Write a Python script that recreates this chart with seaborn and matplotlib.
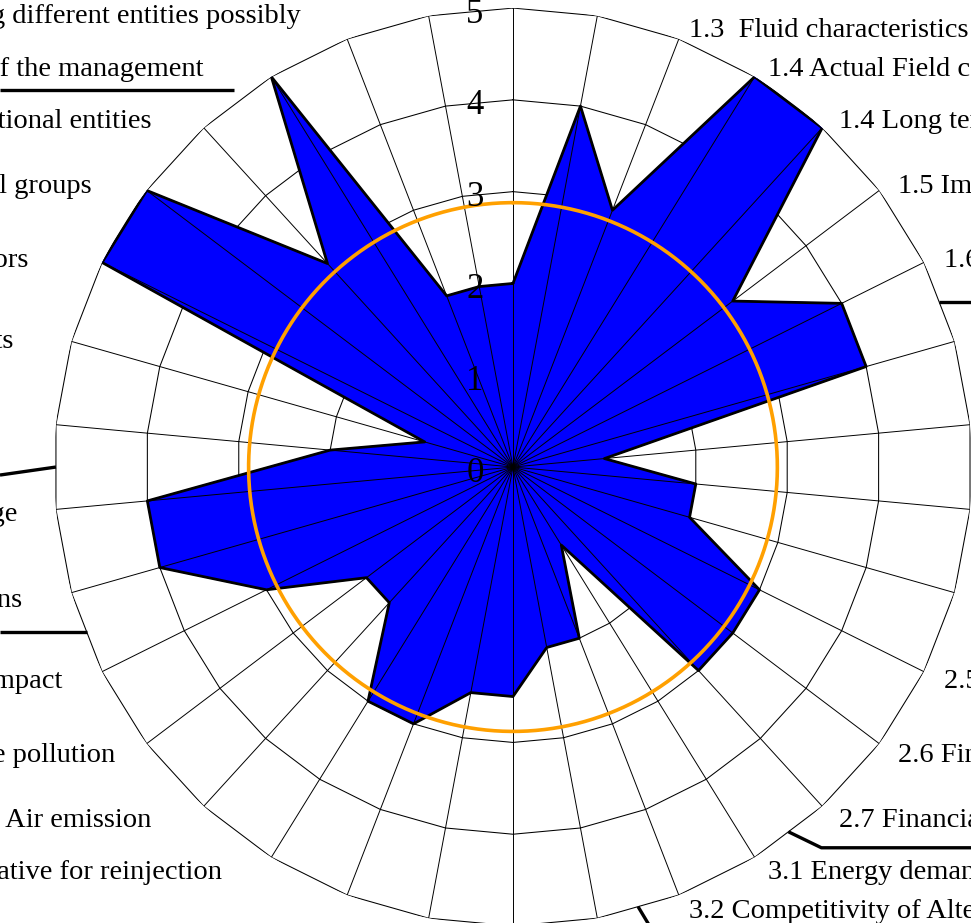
import numpy as np
import pandas as pd
import matplotlib
matplotlib.use("Agg")
import matplotlib.pyplot as plt
from matplotlib.lines import Line2D
from matplotlib.transforms import IdentityTransform
import seaborn as sns

# criteria, clockwise from the top
criteria = [
    "1.1 Geological characteristics",
    "1.2 Reservoir characteristics",
    "1.3  Fluid characteristics",
    "1.4 Actual Field conditions",
    "1.4 Long term sustainability",
    "1.5 Impact of exploitation",
    "1.6 Monitoring of the resource",
    "2.1 Plant technology",
    "2.2 Plant efficiency",
    "2.3 Plant availability",
    "2.4 Investment costs",
    "2.5 Operating costs",
    "2.6 Financial incentives",
    "2.7 Financial risk",
    "3.1 Energy demand",
    "3.2 Competitivity of Alternative sources",
    "4.1 Land use",
    "4.2 Noise",
    "4.3 Soil and subsoil",
    "4.4 Soil\nsubsidence\nand induced seismicity in the surrounding area",
    "4.5 Use of the geothermal fluid as an alternative for reinjection",
    "4.6 Air emission",
    "4.7 Groundwater and surface pollution",
    "4.8 Landscape impact",
    "5.1 Social acceptance of the installations",
    "5.2 Protection of the cultural heritage",
    "6.1 Involvement of local authorities.",
    "6.2 Benefits for local economy and employment effects",
    "6.3 Information to local investors",
    "6.4 Involvement of social groups",
    "6.5 Cooperation with institutional entities",
    "7.1 Transparency of the management",
    "7.2 Sharing of responsibilities among different entities possibly\ninvolved",
    "7.3 Decision making process",
]
scores = [2, 4, 3, 5, 5, 3, 4, 4, 1, 2, 2, 3, 3, 3, 1, 2, 2,
          2.5, 2.5, 3, 3, 2, 2, 3, 4, 4, 2, 1, 5, 5, 3, 5, 2, 2]
ring_levels = [1, 2, 3, 4, 5]
tick_values = [0, 1, 2, 3, 4, 5]
reference_level = 2.88
group_ends = [6, 13, 15, 23, 25, 30]

sns.set_theme(style="white")
plt.rcParams["font.family"] = ["Liberation Serif", "DejaVu Serif"]

n = len(criteria)
step = 2 * np.pi / n
theta = np.arange(n) * step
theta_closed = np.append(theta, theta[0] + 2 * np.pi)
df = pd.DataFrame({"theta": theta_closed, "score": scores + scores[:1]})

fig = plt.figure(figsize=(9.71, 9.23), dpi=100)
ax = fig.add_axes([0.0556, -0.0033, 0.9454, 0.9946], projection="polar")
ax.set_theta_zero_location("N")
ax.set_theta_direction(-1)
ax.set_ylim(0, 5)
ax.grid(False)
ax.spines["polar"].set_visible(False)
ax.set_xticks([])
ax.set_yticks([])

# polygonal grid rings under the fill, spokes above it
for lvl in ring_levels:
    ax.plot(theta_closed, [lvl] * len(theta_closed), color="black", lw=0.75, zorder=1)
ax.fill(df["theta"], df["score"], color="#0000FF", zorder=2)
for th in theta:
    ax.plot([th, th], [0, 5], color="black", lw=0.7, zorder=3)
sns.lineplot(data=df, x="theta", y="score", sort=False, color="black",
             lw=2.0, ax=ax, zorder=4)
circle = np.linspace(0, 2 * np.pi, 400)
ax.plot(circle, [reference_level] * len(circle), color="#FFA000", lw=2.6, zorder=5)
ax.set_xlabel("")
ax.set_ylabel("")

# radial scale on the top spoke
for v in tick_values:
    ax.annotate(str(v), xy=(0, v), xytext=(-38, -6), textcoords="offset pixels",
                ha="center", va="center", fontsize=25, color="black", zorder=6)

# criteria labels around the chart (small horizontal nudges on the left column)
nudge = {31: -18, 28: -17, 25: 20, 24: 8, 23: 17, 22: 23}
for k, (th, name) in enumerate(zip(theta, criteria)):
    s, c = np.sin(th), np.cos(th)
    dy = -5 * c - 4
    if c > 0.95:
        ha, va, dx, dy = "center", "bottom", 0, 10
    elif c < -0.95:
        ha, va, dx, dy = "center", "top", 0, -10
    elif s > 0:
        ha, va, dx = "left", "center", 4
    else:
        ha, va, dx = "right", "center", -40
    dx += nudge.get(k, 0)
    ax.annotate(name, xy=(th, 5.2), xytext=(dx, dy), textcoords="offset pixels",
                ha=ha, va=va, multialignment="left", fontsize=20.5,
                color="black", annotation_clip=False)

# group separators drawn from the outer ring
W = fig.bbox.width
seps = {
    6: [(0, 0), ("R", 0)],
    13: [(0, 0), (33, -16), ("R", -16)],
    15: [(0, 0), (12, -20)],
    23: [(0, 0), ("L", 0)],
    25: [(0, 0), ("L", -8)],
    30: [(-4, 12), ("L", 12)],
}
for k in group_ends:
    th = (k + 0.5) * step
    x0, y0 = ax.transData.transform((th, 5 * np.cos(step / 2)))
    xs, ys = [], []
    for ox, oy in seps[k]:
        if ox == "R":
            xs.append(W)
        elif ox == "L":
            xs.append(0)
        else:
            xs.append(x0 + ox)
        ys.append(y0 + oy)
    fig.add_artist(Line2D(xs, ys, transform=IdentityTransform(),
                          color="black", lw=2.4, solid_capstyle="butt"))

fig.savefig("out.png", dpi=100)
plt.close(fig)
